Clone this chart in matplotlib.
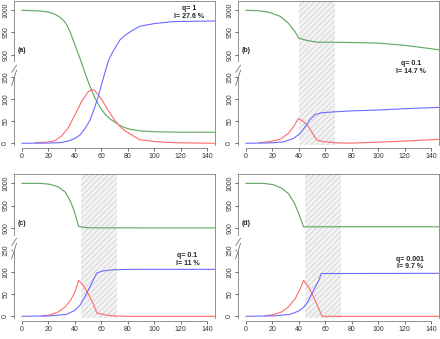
import matplotlib
matplotlib.use("Agg")
import matplotlib.pyplot as plt
import numpy as np

plt.rcParams['font.family'] = ['Liberation Sans', 'DejaVu Sans']
plt.rcParams['hatch.linewidth'] = 0.4

# ---- data ----
# panel (a) q=1
ta_s = [0, 10, 15, 20, 24, 28, 32, 34, 36, 38, 40, 42, 44, 46, 48, 50, 52, 55,
        59, 63, 67, 70, 74, 78, 82, 89, 100, 120, 146]
sa = [1000, 999, 998, 996, 992, 986, 975, 966, 954, 938, 922, 906, 750, 495, 240,
      139, 124, 103, 81, 65, 54, 48, 40, 35, 31.5, 28, 26, 25, 25]
ta_i = [10, 20, 25, 30, 35, 40, 45, 50, 53, 55, 60, 65, 70, 75, 80, 89, 100, 110, 120, 146]
ia = [1, 3, 6, 17, 35, 64, 94, 116, 121, 119, 100, 75, 52, 35, 24, 8, 4, 2, 1, 0]
ta_r = [0, 20, 29, 35, 40, 44, 48, 51.4, 55.2, 57, 59, 61, 62, 63, 64, 65, 66, 67, 68, 69, 70,
        74, 78, 82, 89, 100, 114, 146]
ra = [0, 0.5, 1.5, 5, 11, 19, 35, 52, 83, 100, 120, 142, 180, 345, 495, 645, 765, 855, 903,
      908, 913, 933, 944, 952, 964, 970, 974.5, 976]

# panel (b) q=0.1
tb_s = [0, 10, 18, 26, 32, 37, 40, 46, 54, 67, 100, 120, 146]
sb = [1000, 999, 995, 986, 971, 952, 937, 932, 928, 928, 926, 921, 911]
tb_i = [10, 18, 26, 32, 36, 39.6, 43.4, 47.2, 51, 53.5, 58.6, 66, 79, 100, 120, 146]
ib = [1.4, 3.6, 9, 22.5, 37.5, 56, 49, 37.5, 19, 7.5, 3.6, 1.4, 0.3, 2.5, 5, 9]
tb_r = [0, 20, 28, 36, 41, 44.8, 48.6, 52.4, 57.4, 67.5, 79, 100, 120, 146]
rb = [0, 1, 3, 11, 22.5, 37.5, 54, 65, 69, 71, 73, 75, 78, 81]

# panel (c) q=0.1
tc_s = [0, 13.6, 21, 27.4, 32.5, 36.2, 39.2, 42.8, 48.8, 56.4, 71.4, 96.6, 146]
sc = [1000, 1000, 998, 992, 981, 962, 940, 903, 898.5, 895, 894, 893, 893]
tc_i = [14.8, 21, 27.4, 32.5, 36.7, 40, 42.8, 46.3, 50, 53.8, 56.6, 61.4, 69, 80, 146]
ic = [1, 3, 10, 21, 36, 55, 81, 70, 51, 29, 7.5, 4, 1, 0, 0]
tc_r = [0, 21, 33.7, 40, 43.8, 47.5, 51.3, 54.3, 56.6, 61.4, 69, 84, 146]
rc = [0, 1, 4.5, 13.5, 25, 44, 66, 85, 98, 102.5, 105, 106, 106]

# panel (d) q=0.001
td_s = [0, 13, 20.8, 27, 32, 36.5, 39.7, 43.5, 146]
sd = [1000, 1000, 997, 989, 977, 956, 933, 902, 902]
td_i = [14.4, 20.8, 27, 32, 37.2, 41, 43.5, 47.3, 51.1, 55, 57.5, 146]
idd = [1, 4, 10, 21, 40, 62.5, 81, 66, 44, 17, 0, 0]
td_r = [0, 20.8, 33.4, 39.7, 43.5, 47.3, 51.1, 55, 57, 146]
rd = [0, 1, 4.5, 12, 20, 36, 59, 81, 96.5, 97]

panels = [
    ("(a)", ta_s, sa, ta_i, ia, ta_r, ra, None, "q= 1\nI= 27.6 %", 126, 995),
    ("(b)", tb_s, sb, tb_i, ib, tb_r, rb, (40, 67.5), "q= 0.1\nI= 14.7 %", 125, 465),
    ("(c)", tc_s, sc, tc_i, ic, tc_r, rc, (44.5, 71.5), "q= 0.1\nI= 11 %", 125, 128),
    ("(d)", td_s, sd, td_i, idd, td_r, rd, (44.8, 71.8), "q= 0.001\nI= 9.7 %", 124, 120),
]

yticks = [0, 50, 100, 150, 900, 950, 1000]
xticks = [0, 20, 40, 60, 80, 100, 120, 140]


# broken y axis: 150..900 squeezed into 50 units
def fwd(y):
    y = np.asarray(y, float)
    return np.where(y <= 150, y, np.where(y >= 900, y - 700, 150 + (y - 150) / 15.0))


def inv(p):
    p = np.asarray(p, float)
    return np.where(p <= 150, p, np.where(p >= 200, p + 700, 150 + (p - 150) * 15.0))


fig = plt.figure(figsize=(4.4, 3.39), dpi=100)
W, H = 440.0, 339.0
boxes = [(14.1, 0.55), (238.1, 0.55), (14.1, 173.6), (238.1, 173.6)]

green, red, blue = '#5ea35e', '#ff6b6b', '#6b6bff'

for (lab, ts, s, ti, i, tr, r, shade, txt, tx, ty), (lx, top) in zip(panels, boxes):
    ax = fig.add_axes([lx / W, 1 - (top + 144.5) / H, 201 / W, 144.5 / H])
    ax.set_yscale('function', functions=(fwd, inv))
    ax.set_xlim(-6, 146)
    ax.set_ylim(-4, 1022)
    if shade:
        ax.axvspan(shade[0], shade[1], facecolor='#f3f3f3', edgecolor='#c4c4c4',
                   hatch='//////', lw=0, zorder=0)
    ax.plot(ts, s, color=green, lw=0.8)
    ax.plot(ti, i, color=red, lw=0.8)
    ax.plot(tr, r, color=blue, lw=0.8)

    ax.set_yticks(yticks)
    ax.set_yticklabels([str(v) for v in yticks], rotation=90, va='center')
    ax.set_xticks(xticks)
    ax.yaxis.set_minor_locator(matplotlib.ticker.NullLocator())
    ax.tick_params(labelsize=5, length=2, width=0.5, pad=1.5, colors='#333333')
    for sp in ax.spines.values():
        sp.set_linewidth(0.5)
        sp.set_color('#666666')
    ax.spines['bottom'].set_bounds(0, 140)
    ax.spines['bottom'].set_position(('outward', 2))

    ax.text(tx, ty, txt, ha='center', va='center', fontsize=5, fontweight='bold',
            color='#222222', linespacing=1.1)
    ax.text(0, 910, lab, ha='center', va='center', fontsize=5, fontweight='bold',
            color='#222222')

    # axis break mark
    trans = matplotlib.transforms.blended_transform_factory(ax.transAxes, ax.transData)
    ax.plot([0, 0], [160, 600], color='white', lw=1.5, transform=trans, clip_on=False, zorder=5)
    for yy in (250, 420):
        ax.plot([-0.012, 0.012], [yy - 120, yy + 120], color='#555555', lw=0.5,
                transform=trans, clip_on=False, zorder=6)

fig.savefig('out.png', dpi=100)
